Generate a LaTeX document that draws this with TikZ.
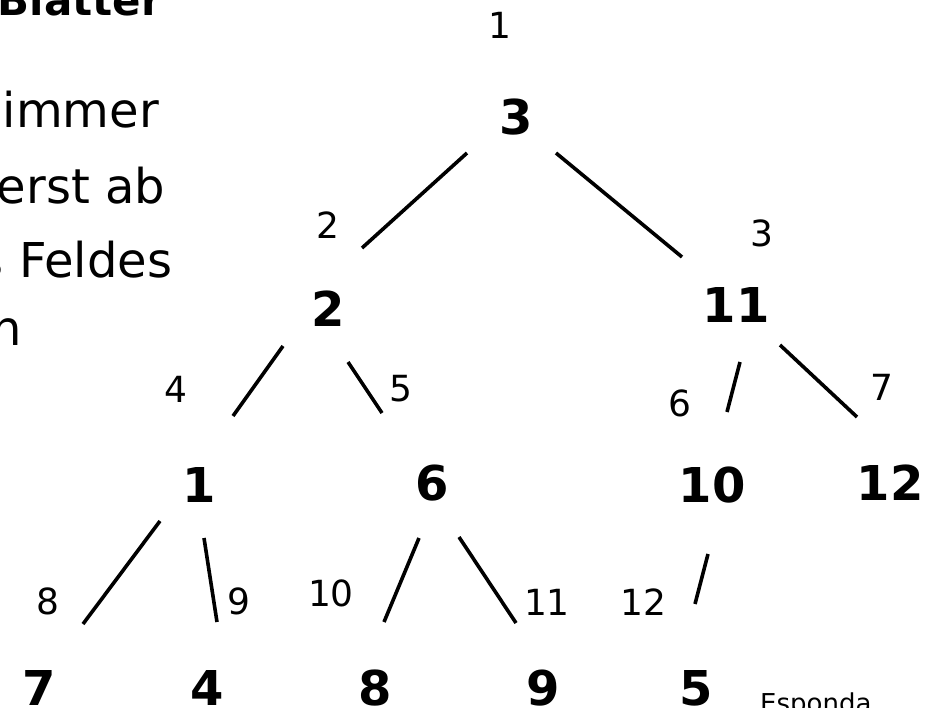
\documentclass[tikz,border=0pt]{standalone}
\usepackage{fontspec}
\setmainfont{DejaVu Sans}
\usepackage{xcolor}
\definecolor{inkcolor}{RGB}{0,0,0}

\begin{document}
\begin{tikzpicture}[x=1pt, y=-1pt,
  % Node styles
  keynode/.style={
    inner sep=0pt,
    outer sep=0pt,
    text=inkcolor,
    font=\fontsize{48}{58}\selectfont\bfseries
  },
  ordlabel/.style={
    inner sep=0pt,
    outer sep=0pt,
    text=inkcolor,
    font=\fontsize{36}{43}\selectfont
  },
  slidetext/.style={
    inner sep=0pt,
    outer sep=0pt,
    anchor=base east,
    text=inkcolor,
    font=\fontsize{48}{58}\selectfont
  },
  edgeline/.style={
    line width=3.6pt,
    draw=inkcolor
  }
]
\useasboundingbox (0,0) rectangle (934,707);

% ===== SLIDE TEXT (cut off at the left) =====
\node[slidetext, font=\fontsize{42}{50}\selectfont\bfseries] (head) at (162,15) {Blätter};
\node[slidetext] (t1) at (159,127) {immer};
\node[slidetext] (t2) at (165,203) {erst ab};
\node[slidetext] (t3) at (172,277) {s Feldes};
\node[slidetext] (t4) at (22,345) {n};

% ===== HEAP KEYS =====
\node[keynode] (n3)  at (516,117) {3};
\node[keynode] (n2)  at (328,309) {2};
\node[keynode] (n11) at (736,305) {11};
\node[keynode] (n1)  at (199,485) {1};
\node[keynode] (n6)  at (432,483) {6};
\node[keynode] (n10) at (712,485) {10};
\node[keynode] (n12) at (890,483) {12};
\node[keynode] (n7)  at (39,688) {7};
\node[keynode] (n4)  at (207,688) {4};
\node[keynode] (n8)  at (375,688) {8};
\node[keynode] (n9)  at (543,688) {9};
\node[keynode] (n5)  at (696,688) {5};

% ===== FIELD INDICES =====
\node[ordlabel] (i1)  at (500,25)  {1};
\node[ordlabel] (i2)  at (328,225) {2};
\node[ordlabel] (i3)  at (762,233) {3};
\node[ordlabel] (i4)  at (176,389) {4};
\node[ordlabel] (i5)  at (401,389) {5};
\node[ordlabel] (i6)  at (680,403) {6};
\node[ordlabel] (i7)  at (882,387) {7};
\node[ordlabel] (i8)  at (48,601)  {8};
\node[ordlabel] (i9)  at (239,601) {9};
\node[ordlabel] (i10) at (331,593) {10};
\node[ordlabel] (i11) at (547,602) {11};
\node[ordlabel] (i12) at (643,602) {12};

\node[inner sep=0pt, anchor=base west, font=\fontsize{26}{31}\selectfont] (src) at (760,712) {Esponda};

% ===== TREE EDGES =====
\draw[edgeline] ([shift={(-49,36)}]n3.center) -- ([shift={(34,-61)}]n2.center);
\draw[edgeline] ([shift={(40,36)}]n3.center) -- ([shift={(-54,-48)}]n11.center);
\draw[edgeline] ([shift={(-45,37)}]n2.center) -- ([shift={(34,-69)}]n1.center);
\draw[edgeline] ([shift={(20,53)}]n2.center) -- ([shift={(-50,-70)}]n6.center);
\draw[edgeline] ([shift={(4,57)}]n11.center) -- ([shift={(15,-73)}]n10.center);
\draw[edgeline] ([shift={(44,40)}]n11.center) -- ([shift={(-33,-66)}]n12.center);
\draw[edgeline] ([shift={(-39,36)}]n1.center) -- ([shift={(44,-64)}]n7.center);
\draw[edgeline] ([shift={(5,53)}]n1.center) -- ([shift={(10,-66)}]n4.center);
\draw[edgeline] ([shift={(-13,55)}]n6.center) -- ([shift={(9,-66)}]n8.center);
\draw[edgeline] ([shift={(27,54)}]n6.center) -- ([shift={(-27,-65)}]n9.center);
\draw[edgeline] ([shift={(-4,69)}]n10.center) -- ([shift={(-1,-84)}]n5.center);

\end{tikzpicture}
\end{document}
